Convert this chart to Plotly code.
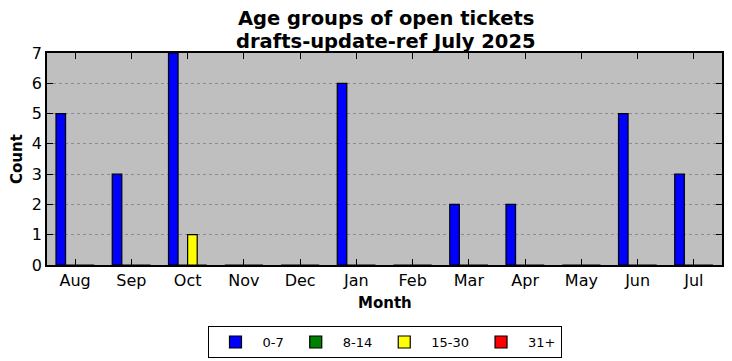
import plotly.graph_objects as go

months = ["Aug", "Sep", "Oct", "Nov", "Dec", "Jan", "Feb", "Mar", "Apr", "May", "Jun", "Jul"]
age_0_7 = [5, 3, 7, 0, 0, 6, 0, 2, 2, 0, 5, 3]
age_8_14 = [0, 0, 0, 0, 0, 0, 0, 0, 0, 0, 0, 0]
age_15_30 = [0, 0, 1, 0, 0, 0, 0, 0, 0, 0, 0, 0]
age_31_plus = [0, 0, 0, 0, 0, 0, 0, 0, 0, 0, 0, 0]

series = [
    ("0-7", age_0_7, "#0000ff"),
    ("8-14", age_8_14, "#008000"),
    ("15-30", age_15_30, "#ffff00"),
    ("31+", age_31_plus, "#ff0000"),
]

font = "DejaVu Sans"
fig = go.Figure()
for name, vals, color in series:
    fig.add_trace(go.Bar(
        x=months, y=vals, name=name,
        marker=dict(color=color, line=dict(color="black", width=1.2)),
    ))

fig.update_layout(
    width=732, height=361,
    margin=dict(l=47, r=10, t=53, b=96, autoexpand=False),
    paper_bgcolor="white", plot_bgcolor="#bfbfbf",
    barmode="group", bargap=0.32, bargroupgap=0,
    font=dict(family=font, color="black", size=16),
    legend=dict(
        orientation="h", x=0.5, xanchor="center", y=-0.288, yanchor="top",
        bordercolor="black", borderwidth=1, font=dict(family=font, size=13),
        bgcolor="white", traceorder="normal", itemwidth=44,
    ),
    showlegend=True,
    annotations=[
        dict(text="<b>Age groups of open tickets</b>", xref="paper", yref="paper",
             x=0.502, y=(265 - 19) / 212, xanchor="center", yanchor="middle",
             showarrow=False, font=dict(family=font, size=19.5)),
        dict(text="<b>drafts-update-ref July 2025</b>", xref="paper", yref="paper",
             x=0.502, y=(265 - 41) / 212, xanchor="center", yanchor="middle",
             showarrow=False, font=dict(family=font, size=19.5)),
        dict(text="<b>Month</b>", xref="paper", yref="paper",
             x=0.5, y=-(303 - 265) / 212, xanchor="center", yanchor="middle",
             showarrow=False, font=dict(family=font, size=15)),
        dict(text="<b>Count</b>", xref="paper", yref="paper",
             x=-(47 - 17) / 675, y=0.5, xanchor="center", yanchor="middle",
             textangle=-90, showarrow=False, font=dict(family=font, size=15)),
    ],
)
fig.update_xaxes(
    range=[-0.5, 11.5], showgrid=False, automargin=False,
    showline=True, linecolor="black", linewidth=1.5, mirror="ticks",
    ticks="inside", ticklen=6, tickcolor="black",
    tickfont=dict(family=font, size=16),
)
fig.update_yaxes(
    range=[0, 7], dtick=1, automargin=False,
    showgrid=True, gridcolor="#8c8c8c", griddash="dot", gridwidth=1,
    showline=True, linecolor="black", linewidth=1.5, mirror="ticks",
    ticks="inside", ticklen=6, tickcolor="black",
    zeroline=False,
    tickfont=dict(family=font, size=16),
)

fig.write_html("out.html", config={"displayModeBar": False},
               post_script="document.body.style.margin='0';document.body.style.overflow='hidden';")
